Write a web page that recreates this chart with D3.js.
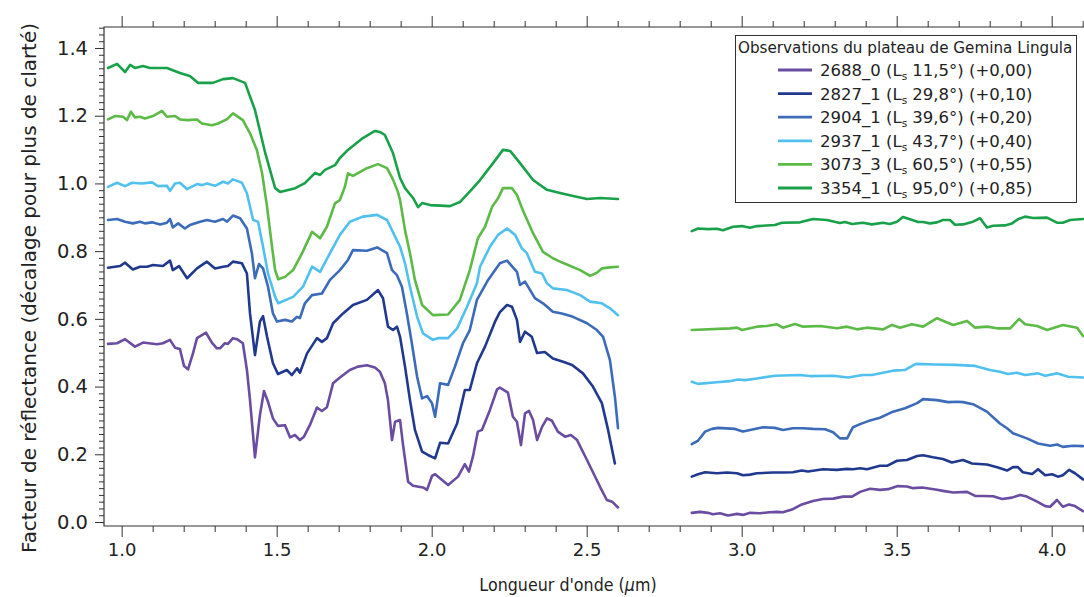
<!DOCTYPE html>
<html><head><meta charset="utf-8">
<script src="https://cdn.jsdelivr.net/npm/d3@7"></script>
<style>
body{margin:0;background:#fff}
svg{display:block}
text{font-family:"DejaVu Sans",sans-serif;fill:#222}
</style>
</head><body>
<svg id="chart" width="1084" height="597"></svg>
<script>
// ---------- data ----------
const seriesIds = ["2688_0","2827_1","2904_1","2937_1","3073_3","3354_1"];
const solarLongitudes = ["11,5","29,8","39,6","43,7","60,5","95,0"];
const offsets = [0.00, 0.10, 0.20, 0.40, 0.55, 0.85];
const offsetLabels = ["+0,00","+0,10","+0,20","+0,40","+0,55","+0,85"];
const legendTitle = "Observations du plateau de Gemina Lingula";
const xTickValues = [1.0, 1.5, 2.0, 2.5, 3.0, 3.5, 4.0];
const yTickValues = [0.0, 0.2, 0.4, 0.6, 0.8, 1.0, 1.2, 1.4];

// spectra: [wavelength (µm), reflectance before offset]; null marks the detector gap
const r2688_0 = [[0.956,0.526],[0.985,0.528],[1.011,0.540],[1.043,0.518],[1.069,0.530],[1.114,0.525],[1.133,0.528],[1.156,0.538],[1.172,0.515],[1.188,0.511],[1.201,0.461],[1.214,0.451],[1.230,0.498],[1.243,0.543],[1.272,0.559],[1.291,0.530],[1.307,0.513],[1.317,0.513],[1.333,0.528],[1.343,0.526],[1.359,0.543],[1.372,0.540],[1.391,0.528],[1.404,0.449],[1.414,0.360],[1.430,0.191],[1.446,0.316],[1.459,0.387],[1.472,0.355],[1.488,0.306],[1.504,0.284],[1.527,0.286],[1.543,0.250],[1.559,0.257],[1.575,0.242],[1.588,0.252],[1.607,0.286],[1.630,0.338],[1.646,0.328],[1.662,0.339],[1.682,0.410],[1.704,0.427],[1.736,0.449],[1.762,0.459],[1.791,0.463],[1.817,0.456],[1.833,0.444],[1.849,0.410],[1.859,0.360],[1.872,0.242],[1.882,0.296],[1.898,0.301],[1.907,0.232],[1.924,0.119],[1.940,0.107],[1.972,0.102],[1.985,0.095],[2.001,0.136],[2.011,0.141],[2.053,0.109],[2.085,0.134],[2.107,0.171],[2.120,0.149],[2.133,0.193],[2.149,0.267],[2.162,0.272],[2.188,0.331],[2.211,0.392],[2.220,0.397],[2.246,0.382],[2.262,0.311],[2.275,0.296],[2.288,0.227],[2.301,0.321],[2.314,0.328],[2.327,0.301],[2.340,0.242],[2.356,0.281],[2.372,0.306],[2.388,0.299],[2.407,0.267],[2.430,0.252],[2.449,0.257],[2.469,0.242],[2.501,0.183],[2.543,0.104],[2.565,0.065],[2.582,0.060],[2.601,0.043],
  [2.72,null],
  [2.839,0.027],[2.866,0.030],[2.891,0.027],[2.907,0.023],[2.930,0.026],[2.956,0.019],[2.985,0.024],[3.004,0.021],[3.027,0.027],[3.059,0.026],[3.091,0.029],[3.114,0.030],[3.133,0.029],[3.165,0.038],[3.194,0.052],[3.230,0.062],[3.262,0.068],[3.295,0.069],[3.327,0.075],[3.356,0.075],[3.382,0.089],[3.414,0.098],[3.446,0.095],[3.472,0.097],[3.504,0.106],[3.533,0.105],[3.553,0.100],[3.582,0.102],[3.630,0.095],[3.649,0.092],[3.682,0.087],[3.727,0.089],[3.753,0.077],[3.778,0.077],[3.811,0.076],[3.840,0.068],[3.872,0.072],[3.898,0.080],[3.920,0.075],[3.953,0.060],[3.979,0.047],[3.995,0.045],[4.017,0.065],[4.036,0.045],[4.056,0.052],[4.075,0.047],[4.101,0.032]];

const r2827_1 = [[0.956,0.651],[0.995,0.656],[1.011,0.666],[1.036,0.646],[1.059,0.654],[1.082,0.654],[1.101,0.659],[1.133,0.656],[1.156,0.672],[1.165,0.644],[1.185,0.656],[1.211,0.620],[1.243,0.649],[1.275,0.669],[1.301,0.649],[1.327,0.654],[1.343,0.656],[1.359,0.669],[1.388,0.664],[1.404,0.634],[1.414,0.516],[1.430,0.393],[1.446,0.492],[1.456,0.508],[1.469,0.447],[1.488,0.369],[1.504,0.337],[1.533,0.349],[1.549,0.334],[1.566,0.354],[1.575,0.341],[1.598,0.398],[1.630,0.443],[1.646,0.432],[1.662,0.443],[1.682,0.487],[1.714,0.516],[1.746,0.541],[1.791,0.556],[1.827,0.585],[1.843,0.561],[1.859,0.477],[1.875,0.467],[1.888,0.477],[1.898,0.447],[1.914,0.359],[1.930,0.260],[1.946,0.172],[1.969,0.108],[1.988,0.098],[2.011,0.088],[2.027,0.134],[2.053,0.132],[2.082,0.191],[2.107,0.290],[2.123,0.290],[2.146,0.369],[2.172,0.418],[2.204,0.491],[2.220,0.520],[2.243,0.541],[2.259,0.536],[2.275,0.497],[2.285,0.432],[2.301,0.462],[2.323,0.447],[2.340,0.399],[2.365,0.402],[2.391,0.383],[2.424,0.373],[2.453,0.364],[2.488,0.339],[2.520,0.300],[2.549,0.251],[2.569,0.172],[2.591,0.073],
  [2.72,null],
  [2.839,0.034],[2.859,0.041],[2.882,0.047],[2.920,0.044],[2.953,0.046],[2.985,0.044],[3.004,0.038],[3.027,0.040],[3.049,0.044],[3.101,0.046],[3.133,0.046],[3.165,0.047],[3.194,0.052],[3.214,0.049],[3.262,0.056],[3.307,0.054],[3.340,0.057],[3.359,0.056],[3.382,0.059],[3.404,0.056],[3.446,0.066],[3.469,0.066],[3.501,0.081],[3.533,0.083],[3.566,0.095],[3.585,0.097],[3.617,0.091],[3.649,0.086],[3.678,0.076],[3.714,0.083],[3.743,0.073],[3.791,0.070],[3.824,0.062],[3.856,0.052],[3.875,0.062],[3.891,0.062],[3.907,0.047],[3.937,0.042],[3.956,0.056],[3.979,0.038],[4.001,0.041],[4.020,0.034],[4.036,0.038],[4.056,0.054],[4.075,0.044],[4.101,0.026]];

const r2904_1 = [[0.956,0.692],[0.985,0.695],[1.011,0.687],[1.036,0.682],[1.059,0.687],[1.075,0.682],[1.098,0.685],[1.124,0.679],[1.146,0.684],[1.156,0.695],[1.165,0.670],[1.182,0.682],[1.204,0.667],[1.220,0.677],[1.253,0.687],[1.275,0.692],[1.301,0.687],[1.327,0.695],[1.340,0.687],[1.359,0.705],[1.382,0.697],[1.404,0.667],[1.420,0.594],[1.430,0.520],[1.443,0.562],[1.456,0.549],[1.472,0.495],[1.488,0.416],[1.501,0.392],[1.527,0.397],[1.549,0.392],[1.566,0.406],[1.575,0.402],[1.591,0.446],[1.614,0.470],[1.646,0.475],[1.672,0.515],[1.704,0.544],[1.730,0.574],[1.746,0.603],[1.791,0.601],[1.824,0.611],[1.856,0.594],[1.872,0.544],[1.888,0.529],[1.904,0.495],[1.920,0.416],[1.936,0.328],[1.953,0.229],[1.969,0.165],[1.985,0.172],[2.001,0.151],[2.011,0.111],[2.027,0.210],[2.053,0.205],[2.075,0.259],[2.101,0.328],[2.123,0.367],[2.146,0.456],[2.182,0.515],[2.220,0.564],[2.243,0.572],[2.275,0.539],[2.285,0.500],[2.301,0.510],[2.333,0.461],[2.359,0.446],[2.391,0.421],[2.420,0.416],[2.456,0.406],[2.501,0.387],[2.533,0.367],[2.553,0.347],[2.575,0.278],[2.591,0.170],[2.601,0.077],
  [2.72,null],
  [2.839,0.030],[2.859,0.040],[2.882,0.067],[2.904,0.075],[2.924,0.078],[2.978,0.075],[3.004,0.067],[3.027,0.072],[3.069,0.080],[3.107,0.078],[3.133,0.072],[3.165,0.077],[3.198,0.077],[3.230,0.075],[3.269,0.074],[3.295,0.065],[3.317,0.047],[3.340,0.047],[3.359,0.080],[3.382,0.089],[3.408,0.098],[3.446,0.108],[3.488,0.126],[3.527,0.136],[3.566,0.151],[3.585,0.163],[3.630,0.160],[3.666,0.154],[3.695,0.155],[3.714,0.154],[3.746,0.148],[3.791,0.126],[3.833,0.091],[3.856,0.077],[3.875,0.062],[3.920,0.047],[3.956,0.032],[3.995,0.025],[4.017,0.029],[4.036,0.022],[4.069,0.025],[4.101,0.024]];

const r2937_1 = [[0.956,0.590],[0.985,0.602],[1.011,0.592],[1.033,0.602],[1.065,0.600],[1.098,0.603],[1.117,0.592],[1.146,0.593],[1.156,0.578],[1.172,0.600],[1.188,0.602],[1.211,0.583],[1.243,0.598],[1.259,0.595],[1.275,0.600],[1.301,0.593],[1.327,0.605],[1.343,0.600],[1.359,0.612],[1.388,0.602],[1.404,0.571],[1.424,0.492],[1.440,0.487],[1.456,0.413],[1.472,0.334],[1.495,0.265],[1.505,0.246],[1.553,0.265],[1.585,0.295],[1.614,0.354],[1.640,0.339],[1.672,0.394],[1.704,0.448],[1.736,0.487],[1.778,0.502],[1.824,0.507],[1.856,0.492],[1.882,0.443],[1.898,0.413],[1.914,0.364],[1.930,0.295],[1.953,0.206],[1.972,0.157],[2.004,0.138],[2.020,0.143],[2.053,0.143],[2.082,0.172],[2.114,0.236],[2.146,0.305],[2.156,0.354],[2.188,0.413],[2.214,0.448],[2.243,0.467],[2.269,0.448],[2.291,0.408],[2.307,0.394],[2.333,0.339],[2.356,0.334],[2.372,0.305],[2.391,0.290],[2.436,0.285],[2.479,0.270],[2.511,0.251],[2.549,0.246],[2.575,0.231],[2.601,0.211],
  [2.72,null],
  [2.839,0.014],[2.859,0.008],[2.920,0.013],[2.962,0.016],[2.988,0.021],[3.011,0.019],[3.049,0.024],[3.107,0.032],[3.188,0.034],[3.220,0.031],[3.295,0.032],[3.343,0.027],[3.391,0.034],[3.420,0.034],[3.456,0.041],[3.488,0.047],[3.527,0.049],[3.562,0.067],[3.623,0.065],[3.688,0.064],[3.753,0.061],[3.801,0.049],[3.833,0.044],[3.859,0.037],[3.888,0.041],[3.914,0.034],[3.956,0.039],[3.979,0.032],[4.017,0.039],[4.053,0.029],[4.101,0.027]];

const r3073_3 = [[0.956,0.639],[0.978,0.649],[1.004,0.647],[1.017,0.637],[1.030,0.662],[1.043,0.645],[1.059,0.647],[1.075,0.642],[1.101,0.649],[1.130,0.664],[1.146,0.647],[1.172,0.649],[1.188,0.639],[1.214,0.637],[1.243,0.639],[1.259,0.627],[1.291,0.622],[1.311,0.627],[1.340,0.640],[1.359,0.657],[1.372,0.649],[1.391,0.637],[1.414,0.598],[1.436,0.549],[1.453,0.480],[1.469,0.381],[1.485,0.263],[1.495,0.194],[1.505,0.167],[1.527,0.174],[1.553,0.194],[1.582,0.244],[1.614,0.307],[1.640,0.288],[1.662,0.322],[1.688,0.391],[1.704,0.401],[1.720,0.440],[1.730,0.480],[1.746,0.472],[1.791,0.495],[1.827,0.507],[1.856,0.495],[1.875,0.462],[1.891,0.425],[1.898,0.401],[1.914,0.312],[1.930,0.244],[1.946,0.165],[1.969,0.091],[2.004,0.061],[2.053,0.063],[2.091,0.106],[2.123,0.194],[2.149,0.288],[2.172,0.322],[2.195,0.381],[2.214,0.406],[2.230,0.436],[2.259,0.436],[2.275,0.416],[2.294,0.371],[2.327,0.303],[2.359,0.248],[2.391,0.229],[2.414,0.219],[2.440,0.209],[2.479,0.194],[2.511,0.177],[2.533,0.186],[2.549,0.199],[2.575,0.202],[2.601,0.204],
  [2.72,null],
  [2.839,0.017],[2.962,0.022],[2.985,0.024],[3.001,0.017],[3.049,0.027],[3.081,0.029],[3.114,0.034],[3.133,0.024],[3.172,0.035],[3.198,0.027],[3.253,0.029],[3.307,0.022],[3.340,0.027],[3.372,0.019],[3.404,0.024],[3.456,0.019],[3.485,0.032],[3.511,0.024],[3.549,0.034],[3.585,0.027],[3.630,0.052],[3.682,0.032],[3.727,0.044],[3.753,0.024],[3.791,0.027],[3.824,0.022],[3.866,0.022],[3.895,0.050],[3.914,0.034],[3.953,0.029],[3.985,0.017],[4.036,0.032],[4.082,0.024],[4.101,-0.001]];

const r3354_1 = [[0.956,0.491],[0.985,0.503],[1.011,0.479],[1.027,0.500],[1.043,0.491],[1.069,0.497],[1.091,0.491],[1.146,0.491],[1.188,0.476],[1.220,0.467],[1.246,0.447],[1.294,0.447],[1.327,0.458],[1.359,0.461],[1.398,0.447],[1.430,0.367],[1.463,0.240],[1.495,0.136],[1.511,0.125],[1.560,0.136],[1.591,0.151],[1.624,0.181],[1.640,0.175],[1.656,0.190],[1.688,0.204],[1.704,0.225],[1.730,0.249],[1.778,0.284],[1.817,0.305],[1.833,0.302],[1.849,0.293],[1.875,0.240],[1.898,0.166],[1.914,0.136],[1.940,0.107],[1.956,0.080],[1.969,0.092],[1.995,0.086],[2.059,0.083],[2.091,0.095],[2.133,0.136],[2.156,0.160],[2.198,0.210],[2.230,0.249],[2.253,0.246],[2.285,0.210],[2.327,0.160],[2.372,0.131],[2.414,0.122],[2.456,0.113],[2.501,0.104],[2.543,0.107],[2.601,0.104],
  [2.72,null],
  [2.839,0.009],[2.859,0.017],[2.891,0.015],[2.920,0.016],[2.940,0.012],[2.972,0.022],[3.001,0.024],[3.027,0.019],[3.049,0.024],[3.107,0.027],[3.130,0.034],[3.188,0.035],[3.230,0.045],[3.275,0.042],[3.317,0.033],[3.333,0.036],[3.356,0.030],[3.391,0.034],[3.420,0.029],[3.456,0.034],[3.478,0.030],[3.501,0.037],[3.520,0.051],[3.543,0.044],[3.569,0.036],[3.585,0.036],[3.607,0.032],[3.630,0.035],[3.649,0.042],[3.672,0.042],[3.688,0.028],[3.714,0.029],[3.746,0.037],[3.769,0.047],[3.791,0.020],[3.811,0.025],[3.849,0.026],[3.872,0.032],[3.891,0.044],[3.914,0.052],[3.940,0.048],[3.985,0.049],[4.017,0.034],[4.036,0.034],[4.059,0.042],[4.101,0.045]];

const spectra = [r2688_0, r2827_1, r2904_1, r2937_1, r3073_3, r3354_1];
const palette = ["#6a4ca0","#20398f","#3c6bba","#50c1ef","#5cba47","#19a14a"];

// ---------- chart ----------
const svg = d3.select("#chart");
const mLeft = 104, mTop = 27, mBottom = 526, mRight = 1092;
const x = d3.scaleLinear().domain([0.943, 4.13]).range([mLeft, mRight]);
const y = d3.scaleLinear().domain([-0.0118, 1.462]).range([mBottom, mTop]);
const axisColor = "#333";

svg.append("clipPath").attr("id","clip").append("rect")
  .attr("x", mLeft).attr("y", mTop).attr("width", 1084 - mLeft).attr("height", mBottom - mTop);

const xMinor = d3.range(1.0, 4.15, 0.1).map(v => +v.toFixed(2)).filter(v => Math.abs(v*2 - Math.round(v*2)) > 1e-6);
const yMinor = d3.range(0, 1.47, 0.02).map(v => +v.toFixed(2)).filter(v => Math.abs(v*5 - Math.round(v*5)) > 1e-6);

function styleAxis(size){
  return g => {
    g.select(".domain").remove();
    g.selectAll(".tick line").attr("stroke", axisColor).attr("stroke-width", 1);
    g.selectAll(".tick text").attr("fill", "#222").style("font-size", size + "px")
     .style("font-family", '"DejaVu Sans", sans-serif');
  };
}

svg.append("g").attr("transform", `translate(0,${mBottom})`)
  .call(d3.axisBottom(x).tickValues(xTickValues).tickSize(11).tickPadding(6).tickFormat(d3.format(".1f")))
  .call(styleAxis(18));
svg.append("g").attr("transform", `translate(0,${mBottom})`)
  .call(d3.axisBottom(x).tickValues(xMinor).tickSize(6).tickFormat(""))
  .call(styleAxis(18));
svg.append("g").attr("transform", `translate(0,${mTop})`)
  .call(d3.axisTop(x).tickValues(xTickValues).tickSize(11).tickFormat(""))
  .call(styleAxis(18));
svg.append("g").attr("transform", `translate(0,${mTop})`)
  .call(d3.axisTop(x).tickValues(xMinor).tickSize(6).tickFormat(""))
  .call(styleAxis(18));
svg.append("g").attr("transform", `translate(${mLeft},0)`)
  .call(d3.axisLeft(y).tickValues(yTickValues).tickSize(9).tickPadding(7).tickFormat(d3.format(".1f")))
  .call(styleAxis(19.5));
svg.append("g").attr("transform", `translate(${mLeft},0)`)
  .call(d3.axisLeft(y).tickValues(yMinor).tickSize(5).tickFormat(""))
  .call(styleAxis(18));

svg.append("path")
  .attr("d", `M1084,${mTop}H${mLeft}V${mBottom}H1084`)
  .attr("fill","none").attr("stroke", axisColor).attr("stroke-width", 1.2);

const line = d3.line()
  .defined(d => d.plot !== null)
  .x(d => x(d[0]))
  .y(d => d.plot);

const plotG = svg.append("g").attr("clip-path","url(#clip)");
spectra.forEach((s, i) => {
  const pts = s.map(d => { const p = [d[0], d[1]]; p.plot = d[1] === null ? null : y(d[1] + offsets[i]); return p; });
  plotG.append("path").datum(pts)
    .attr("fill","none").attr("stroke", palette[i]).attr("stroke-width", 2.6)
    .attr("stroke-linejoin","round").attr("stroke-linecap","round")
    .attr("d", line);
});

svg.append("text")
  .attr("transform", `translate(36,288) rotate(-90)`)
  .attr("text-anchor","middle").style("font-size","19px")
  .attr("textLength", 530).attr("lengthAdjust","spacingAndGlyphs")
  .text("Facteur de réflectance (décalage pour plus de clarté)");
const xt = svg.append("text")
  .attr("transform", "translate(568,591) scale(0.86,1)")
  .attr("text-anchor","middle").style("font-size","18.5px");
xt.append("tspan").text("Longueur d'onde (");
xt.append("tspan").style("font-style","italic").text("µ");
xt.append("tspan").text("m)");

const lg = svg.append("g");
lg.append("rect").attr("x",735.5).attr("y",35.5).attr("width",341).attr("height",167)
  .attr("fill","#fff").attr("stroke","#333").attr("stroke-width",1);
lg.append("text").attr("x",738).attr("y",52.5).style("font-size","15.2px").text(legendTitle);
seriesIds.forEach((id, i) => {
  const cy = 70 + i * 23.6;
  lg.append("line").attr("x1",778).attr("x2",812).attr("y1",cy).attr("y2",cy)
    .attr("stroke", palette[i]).attr("stroke-width",2.8);
  const t = lg.append("text").attr("x",820).attr("y",cy + 6).style("font-size","16.5px");
  t.append("tspan").text(`${id} (L`);
  t.append("tspan").attr("dy",4).style("font-size","10.5px").text("s");
  t.append("tspan").attr("dy",-4).text(` ${solarLongitudes[i]}°) (${offsetLabels[i]})`);
});
</script>
</body></html>
